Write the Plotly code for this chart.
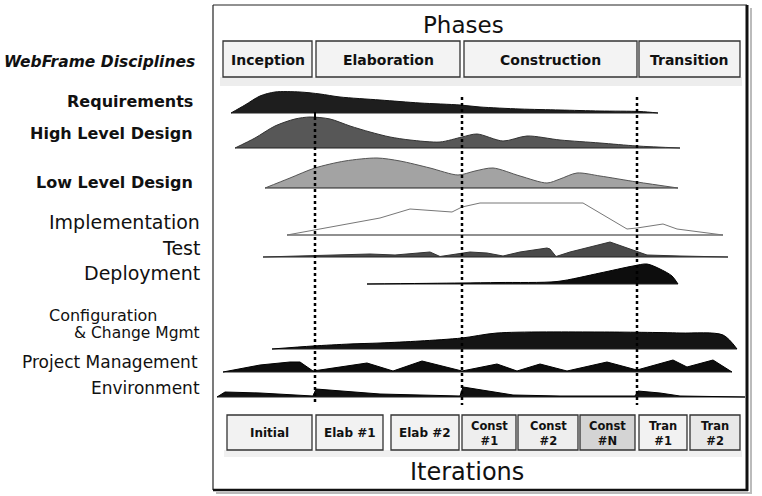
import plotly.graph_objects as go

# ---------------- DATA ----------------
phases = ["Inception", "Elaboration", "Construction", "Transition"]
iterations = ["Initial", "Elab #1", "Elab #2", "Const<br>#1", "Const<br>#2",
              "Const<br>#N", "Tran<br>#1", "Tran<br>#2"]
disciplines = ["Requirements", "High Level Design", "Low Level Design",
               "Implementation", "Test", "Deployment",
               "Configuration<br>& Change Mgmt", "Project Management", "Environment"]

# effort profiles along the project timeline (timeline units, relative effort)
requirements_t = [231, 245, 260, 275, 300, 320, 340, 380, 420, 460, 480, 520, 560, 600, 640, 658]
requirements_e = [0, 8, 17, 21, 21, 19, 16, 13, 10, 8, 6, 4, 3, 2, 1.5, 0]

hld_t = [235, 255, 275, 295, 310, 330, 350, 370, 390, 410, 440, 462, 477, 503, 527, 560, 600, 637, 680]
hld_e = [0, 10, 22, 29, 31, 29, 22, 16, 11, 8, 6, 11, 14, 7, 12, 8, 5, 2, 0]

lld_t = [265, 290, 315, 345, 377, 400, 430, 458, 475, 493, 520, 547, 560, 577, 600, 637, 678]
lld_e = [0, 10, 20, 27, 30, 27, 20, 13, 17, 20, 12, 5, 9, 15, 12, 6, 0]

impl_t = [287, 315, 350, 380, 410, 452, 462, 480, 583, 627, 637, 663, 677, 700, 723]
impl_e = [0, 5, 12, 17, 26, 23, 28, 32, 32, 6, 7, 11, 6, 3, 0]

test_t = [263, 300, 330, 370, 395, 420, 430, 440, 455, 470, 487, 503, 520, 547, 550, 556, 570, 610, 630, 647, 680, 728]
test_e = [0, 1, 2, 3, 2, 4, 5, 0.5, 3, 5, 4, 1, 5, 9, 8, 0.5, 5, 15, 8, 2, 1, 0]

deploy_t = [367, 460, 500, 557, 600, 633, 647, 660, 672, 678]
deploy_e = [0, 1, 1.5, 2.5, 11, 18, 20, 15, 8, 0]

ccm_t = [272, 313, 350, 380, 420, 462, 497, 600, 680, 723, 737]
ccm_e = [0, 3, 5, 6, 8, 11, 16, 17, 16, 14, 0]

pm_t = [223, 260, 290, 300, 313, 340, 367, 380, 393, 422, 462, 497, 517, 540, 567, 607, 637, 673, 687, 713, 732]
pm_e = [0, 7, 10, 10, 1, 5, 9, 5, 1, 11, 1, 8, 1, 8, 1, 10, 2, 12, 5, 12, 0]

env_t = [217, 225, 260, 300, 313, 316, 340, 380, 420, 460, 463, 490, 513, 560, 600, 635, 638, 660, 680, 745]
env_e = [0, 5, 4, 2, 1, 8, 6, 3, 2, 1, 10, 6, 2, 1, 1, 1, 6, 4, 1, 0]

# ---------------- LAYOUT / STYLE ----------------
W, H = 762, 496
baselines = [113, 148, 188, 235, 257, 284, 349, 372, 397]
fills = ["#1e1e1e", "#575757", "#a3a3a3", "#ffffff", "#4a4a4a", "#0d0d0d", "#141414", "#0d0d0d", "#111111"]
edges = ["#111111", "#333333", "#555555", "#777777", "#333333", "#000000", "#000000", "#000000", "#000000"]
shapes_kind = ["spline", "spline", "spline", "linear", "linear", "spline", "spline", "linear", "linear"]
profiles = [(requirements_t, requirements_e), (hld_t, hld_e), (lld_t, lld_e),
            (impl_t, impl_e), (test_t, test_e), (deploy_t, deploy_e),
            (ccm_t, ccm_e), (pm_t, pm_e), (env_t, env_e)]

fig = go.Figure()

for (t, e), base, fc, ec, kind in zip(profiles, baselines, fills, edges, shapes_kind):
    # baseline of the discipline row
    fig.add_trace(go.Scatter(x=[t[0], t[-1]], y=[base, base], mode="lines",
                             line=dict(color="#222", width=1.2), hoverinfo="skip", showlegend=False))
    # effort hump filled down to the baseline
    fig.add_trace(go.Scatter(x=list(t), y=[base - v for v in e], mode="lines", fill="tonexty",
                             fillcolor=fc,
                             line=dict(color=ec, width=1, shape=kind, smoothing=0.8),
                             hoverinfo="skip", showlegend=False))

shapes = []
# frame
shapes.append(dict(type="line", x0=751, x1=751, y0=8, y1=494, line=dict(color="#bbbbbb", width=2)))
shapes.append(dict(type="line", x0=216, x1=751, y0=493, y1=493, line=dict(color="#bbbbbb", width=2)))
shapes.append(dict(type="line", x0=213, x1=747, y0=5, y1=5, line=dict(color="#222", width=1)))
shapes.append(dict(type="line", x0=213, x1=213, y0=5, y1=490, line=dict(color="#222", width=1.2)))
shapes.append(dict(type="line", x0=747, x1=747, y0=5, y1=491, line=dict(color="#111", width=3)))
shapes.append(dict(type="line", x0=213, x1=748, y0=490, y1=490, line=dict(color="#111", width=2.5)))

# phase boxes
phase_x = [(223, 312), (316, 460), (464, 637), (639, 740)]
shapes.append(dict(type="rect", x0=220, x1=742, y0=77, y1=86, line=dict(width=0),
                   fillcolor="rgba(0,0,0,0.07)", layer="below"))
for (a, b) in phase_x:
    shapes.append(dict(type="rect", x0=a, x1=b, y0=41, y1=77, fillcolor="#f3f3f3",
                       line=dict(color="#333", width=1.3), layer="below"))

# iteration boxes
iter_x = [(227, 312), (316, 383), (391, 459), (462, 516), (518, 578), (580, 635), (639, 687), (690, 740)]
iter_fill = ["#f2f2f2", "#f2f2f2", "#f2f2f2", "#eeeeee", "#eeeeee", "#d4d4d4", "#f2f2f2", "#e8e8e8"]
shapes.append(dict(type="rect", x0=224, x1=742, y0=450, y1=457, line=dict(width=0),
                   fillcolor="rgba(0,0,0,0.06)", layer="below"))
for (a, b), fc in zip(iter_x, iter_fill):
    shapes.append(dict(type="rect", x0=a, x1=b, y0=415, y1=450, fillcolor=fc,
                       line=dict(color="#333", width=1.3), layer="below"))

# dotted phase milestones
for x, ytop in [(315, 117), (462, 97), (637, 97)]:
    shapes.append(dict(type="line", x0=x, x1=x, y0=ytop, y1=405,
                       line=dict(color="#000", width=2.5, dash="dot")))
shapes.append(dict(type="line", x0=315, x1=315, y0=112, y1=120, line=dict(color="#000", width=2)))

annotations = []
def txt(x, y, s, size, anchor="right", bold=False, italic=False, family="DejaVu Sans", color="#111"):
    annotations.append(dict(x=x, y=y, xref="x", yref="y", text=s, showarrow=False,
                            xanchor=anchor, yanchor="middle",
                            font=dict(family=family, size=size, color=color,
                                      weight="bold" if bold else "normal",
                                      style="italic" if italic else "normal")))

txt(2, 62, "WebFrame Disciplines", 15.5, anchor="left", bold=True, italic=True)
label_pos = [(195, 101, 16, True), (195, 133, 16, True), (195, 182, 16, True),
             (202, 222, 19, False), (202, 248, 19, False), (202, 273, 19, False),
             (202, 324, 16, False), (200, 362, 17, False), (202, 388, 17, False)]
for name, (x, y, s, b) in zip(disciplines, label_pos):
    if "<br>" in name:
        first, second = name.split("<br>")
        txt(160, 315, first, 16)
        txt(202, 333, second, 15.5)
    else:
        txt(x, y, name, s, bold=b)

txt(463, 25, "Phases", 23, anchor="center")
for name, (a, b) in zip(phases, phase_x):
    txt((a + b) / 2, 60, name, 14, anchor="center", bold=True)
for name, (a, b) in zip(iterations, iter_x):
    txt((a + b) / 2, 433, name, 12 if "<br>" not in name else 11.5, anchor="center", bold=True)
txt(467, 472, "Iterations", 24, anchor="center")

fig.update_layout(
    width=W, height=H, autosize=False,
    margin=dict(l=0, r=0, t=0, b=0, pad=0),
    paper_bgcolor="white", plot_bgcolor="white",
    xaxis=dict(range=[0, W], visible=False, fixedrange=True),
    yaxis=dict(range=[H, 0], visible=False, fixedrange=True),
    shapes=shapes, annotations=annotations, showlegend=False,
)
fig.write_html("out.html", config={"displayModeBar": False})
